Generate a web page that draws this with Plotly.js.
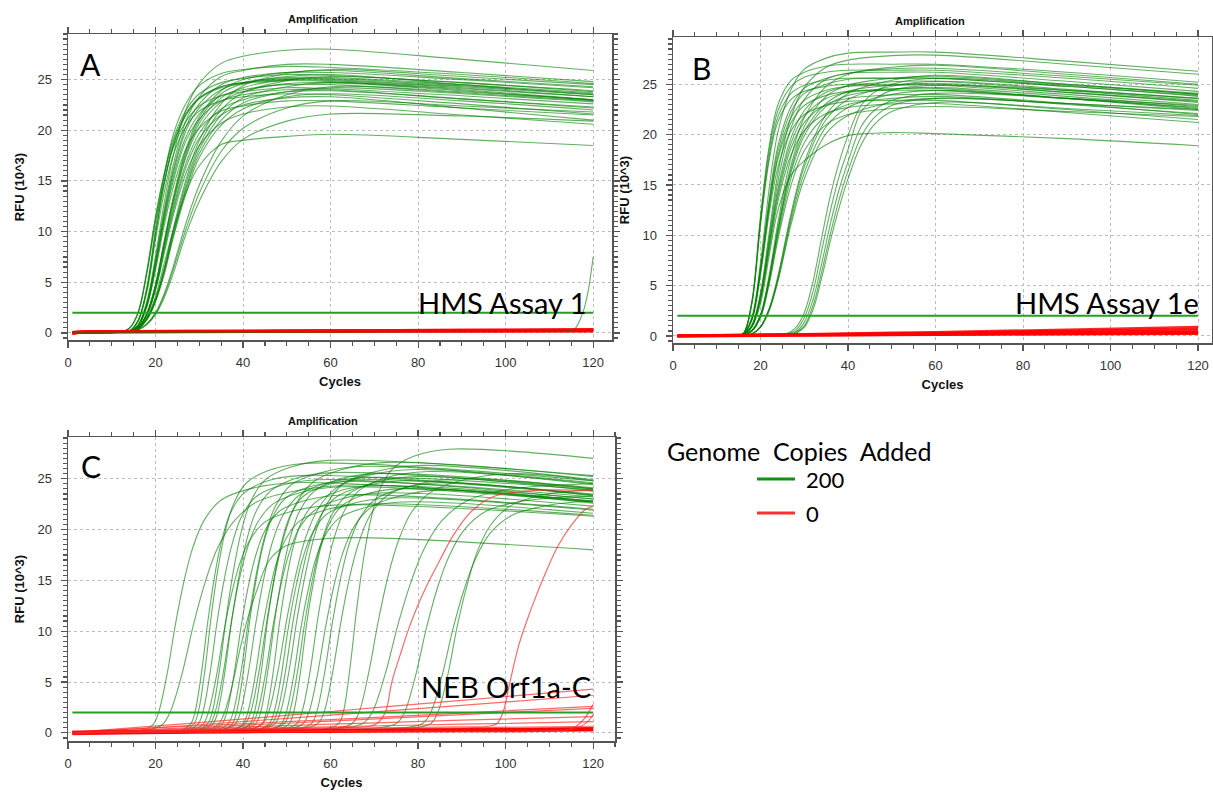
<!DOCTYPE html>
<html><head><meta charset="utf-8">
<script src="https://cdn.plot.ly/plotly-3.0.1.min.js"></script>
<style>html,body{margin:0;padding:0;background:#fff}#chart{width:1213px;height:793px}</style>
</head><body><div id="chart"></div>
<script>
// ---------------- DATA ----------------
const panelTitles = ["Amplification", "Amplification", "Amplification"];
const panelLetters = ["A", "B", "C"];
const assayNames = ["HMS Assay 1", "HMS Assay 1e", "NEB Orf1a-C"];
const xTickLabels = [0, 20, 40, 60, 80, 100, 120];
const yTickLabels = [0, 5, 10, 15, 20, 25];
const legendTitle = "Genome\u00A0\u00A0Copies\u00A0\u00A0Added";
const legendLabels = ["200", "0"];
const thresholdRFU = [2.0, 2.0, 2.0];
const thresholdCycles = [1, 120];

// Panel A: 200-copy curves, RFU (10^3) at shared cycles
const cyclesA = [1, 12, 14, 16, 18, 20, 22, 24, 27, 30, 35, 40, 50, 60, 90, 120];
const greenA = [
 [0.0,0.1,0.46,2.0,6.1,11.5,15.8,19.1,22.0,23.6,24.7,25.1,25.5,25.4,24.7,23.8],
 [0.0,0.1,0.44,1.9,5.8,10.9,15.0,18.2,20.9,22.4,23.4,23.8,24.2,24.1,23.4,22.6],
 [0.0,0.1,0.18,1.2,4.5,10.3,15.5,19.5,22.7,24.4,25.6,26.0,26.3,26.2,25.5,24.6],
 [0.0,0.1,0.18,1.2,4.3,9.8,14.8,18.5,21.6,23.2,24.3,24.7,25.0,24.9,24.2,23.3],
 [0.0,0.1,0.17,1.1,4.0,9.2,13.9,17.5,20.4,21.9,22.9,23.3,23.6,23.5,22.6,21.6],
 [0.0,0.1,0.17,0.8,3.1,7.6,12.9,17.4,22.1,24.6,26.6,27.3,27.9,28.0,27.0,25.9],
 [0.0,0.1,0.15,0.7,2.8,7.0,11.9,16.0,20.4,22.6,24.5,25.2,25.7,25.7,25.0,24.2],
 [0.0,0.1,0.15,0.7,2.7,6.6,11.3,15.3,19.4,21.6,23.4,24.0,24.5,24.5,23.7,22.9],
 [0.0,0.1,0.14,0.6,2.5,6.2,10.6,14.3,18.2,20.2,21.9,22.4,22.9,22.9,22.2,21.5],
 [0.0,0.1,0.16,0.7,2.9,7.2,12.2,16.5,21.0,23.3,25.3,25.9,26.5,26.5,25.7,24.8],
 [0.0,0.1,0.1,0.5,1.9,4.7,8.8,12.9,17.6,20.7,23.2,24.2,25.0,25.1,24.4,23.6],
 [0.0,0.1,0.1,0.5,1.8,4.4,8.4,12.2,16.8,19.7,22.1,23.0,23.8,23.9,23.1,22.3],
 [0.0,0.1,0.1,0.5,1.9,4.8,9.1,13.3,18.2,21.3,23.9,25.0,25.7,25.9,25.1,24.3],
 [0.0,0.1,0.1,0.45,1.7,4.2,7.9,11.5,15.8,18.5,20.7,21.6,22.3,22.4,21.5,20.6],
 [0.0,0.1,0.1,0.5,1.8,4.6,8.7,12.6,17.4,20.3,22.8,23.8,24.6,24.7,23.9,23.0],
 [0.0,0.1,0.1,0.4,1.4,3.3,6.3,10.0,14.8,18.5,22.0,23.7,24.9,25.3,24.7,23.9],
 [0.0,0.1,0.1,0.4,1.3,3.1,5.8,9.3,13.8,17.3,20.5,22.1,23.3,23.6,22.9,22.0],
 [0.0,0.1,0.1,0.3,0.8,1.8,3.5,5.8,9.8,13.0,16.9,19.1,20.9,21.6,21.4,20.9],
 [0.0,0.1,0.1,0.4,1.3,3.1,6.0,9.5,14.2,17.7,21.0,22.7,23.8,24.2,23.6,22.8],
 [0.0,0.1,0.1,0.45,1.4,3.4,6.4,10.2,15.2,19.0,22.6,24.4,25.6,26.0,25.3,24.5],
 [0.0,0.1,0.1,0.3,0.9,1.9,3.7,6.2,10.3,13.8,17.9,20.2,22.2,22.9,22.4,21.8],
 [0.0,0.1,0.1,0.4,1.45,3.6,6.9,10.0,13.9,16.5,18.6,19.0,19.4,19.6,19.1,18.5],
 [0.0,0.1,0.1,0.35,0.9,2.0,3.9,6.5,10.9,14.6,18.9,21.4,23.5,24.3,23.8,23.0],
 [0.0,0.1,0.17,1.2,4.2,9.7,14.7,18.4,21.5,23.1,24.2,24.6,24.9,24.8,24.0,23.0],
 [0.0,0.1,0.14,0.7,2.65,6.5,11.1,14.9,19.0,21.1,22.9,23.5,24.0,24.0,23.1,22.2],
 [0.0,0.1,0.1,0.5,1.9,4.7,9.0,13.1,17.9,21.0,23.6,24.6,25.3,25.5,24.5,23.5],
 [0.0,0.1,0.45,2.0,6.0,11.3,15.6,18.8,21.7,23.2,24.3,24.7,25.1,25.0,24.3,23.5],
 [0.0,0.1,0.1,0.4,1.3,3.2,6.1,9.7,14.4,18.1,21.5,23.2,24.3,24.7,24.1,23.3],
 [0.0,0.1,0.1,0.5,1.7,4.3,8.2,11.9,16.4,19.2,21.5,22.5,23.2,23.3,22.2,21.0],
 [0.0,0.1,0.15,0.7,2.8,6.9,11.6,15.7,20.0,22.2,24.0,24.7,25.2,25.2,24.5,23.7]
];
const lateGreenA_cycles = [1, 60, 112, 114, 115, 116, 117, 118, 119, 120];
const lateGreenA_rfu    = [0.0, 0.1, 0.15, 0.18, 0.25, 0.5, 1.3, 2.5, 4.5, 7.5];
// Panel A: 0-copy curves
const redA_cycles = [1, 3, 10, 30, 60, 90, 120];
const redA = [
 [-0.1, 0.05, 0.1, 0.12, 0.15, 0.18, 0.2],
 [0.0, 0.1, 0.12, 0.15, 0.2, 0.24, 0.28],
 [0.05, 0.12, 0.14, 0.18, 0.22, 0.27, 0.32],
 [-0.05, 0.06, 0.08, 0.1, 0.12, 0.14, 0.16],
 [0.1, 0.15, 0.17, 0.2, 0.25, 0.3, 0.36],
 [0.0, 0.08, 0.1, 0.13, 0.17, 0.2, 0.24]
];

// Panel B: 200-copy curves
const cyclesB = [1, 12, 14, 16, 18, 20, 22, 24, 27, 30, 35, 40, 50, 60, 90, 120];
const greenB = [
 [0,0.1,0.11,0.21,3.3,11.6,18.5,22.4,24.8,25.7,26.2,26.4,26.4,26.4,25.6,24.6],
 [0,0.1,0.1,0.2,3.1,11.0,17.5,21.3,23.5,24.3,24.8,25.0,25.0,25.0,24.2,23.2],
 [0,0.1,0.11,0.22,3.4,11.9,18.9,23.0,25.4,26.2,26.8,27.0,27.0,27.0,26.2,25.2],
 [0,0.1,0.1,0.2,1.8,7.3,14.7,20.3,24.5,26.5,27.6,28.1,28.2,28.2,27.3,26.3],
 [0,0.1,0.1,0.18,1.7,6.7,13.3,18.4,22.3,24.1,25.0,25.5,25.6,25.6,24.8,23.8],
 [0,0.1,0.1,0.17,1.6,6.3,12.7,17.6,21.2,22.9,23.9,24.3,24.4,24.4,23.6,22.6],
 [0,0.1,0.1,0.18,1.7,6.8,13.6,18.9,22.8,24.6,25.6,26.1,26.2,26.2,25.3,24.3],
 [0,0.1,0.1,0.17,1.06,4.3,10.3,16.2,21.8,24.7,26.7,27.4,27.85,27.9,27.0,26.0],
 [0,0.1,0.1,0.15,0.96,3.9,9.4,14.7,19.7,22.4,24.2,24.8,25.25,25.3,24.4,23.4],
 [0,0.1,0.1,0.14,0.91,3.7,8.9,13.9,18.7,21.2,23.0,23.6,23.95,24.0,23.1,22.0],
 [0,0.1,0.1,0.16,1.01,4.1,9.8,15.4,20.7,23.5,25.5,26.1,26.55,26.6,25.8,24.9],
 [0,0.1,0.1,0.14,0.88,3.6,8.5,13.4,18.0,20.4,22.1,22.7,23.05,23.1,22.2,21.2],
 [0,0.1,0.1,0.12,0.52,2.06,5.8,10.8,17.0,20.8,23.8,24.9,25.6,25.8,25.0,24.0],
 [0,0.1,0.1,0.11,0.49,1.98,5.6,10.4,16.3,19.9,22.8,23.9,24.5,24.7,23.8,22.8],
 [0,0.1,0.1,0.12,0.54,2.15,6.1,11.3,17.8,21.7,24.8,26.0,26.7,26.9,26.0,25.0],
 [0,0.1,0.1,0.1,0.46,1.82,5.15,9.6,15.0,18.4,21.0,22.0,22.6,22.8,22.3,21.8],
 [0,0.1,0.1,0.11,0.5,2.0,5.7,10.5,16.6,20.3,23.1,24.3,24.9,25.1,24.2,23.3],
 [0,0.1,0.1,0.1,0.2,0.88,2.6,5.6,11.5,16.2,20.8,22.7,24.0,24.4,23.6,22.7],
 [0,0.1,0.1,0.1,0.21,0.94,2.76,6.0,12.2,17.2,22.0,24.1,25.4,25.9,25.0,24.1],
 [0,0.1,0.1,0.1,0.19,0.85,2.5,5.45,11.1,15.6,20.1,21.9,23.2,23.6,23.1,22.5],
 [0,0.1,0.1,0.1,0.2,0.91,2.7,5.8,11.9,16.8,21.5,23.5,24.8,25.3,24.5,23.6],
 [0,0.1,0.1,0.17,1.62,6.5,12.9,17.9,21.7,23.4,24.4,24.8,24.9,24.9,24.0,23.0],
 [0,0.1,0.1,0.2,3.2,11.3,17.9,21.8,24.1,24.9,25.4,25.6,25.6,25.6,24.8,23.9],
 [0,0.1,0.1,0.15,0.93,3.8,9.1,14.3,19.2,21.8,23.6,24.2,24.55,24.6,23.6,22.5],
 [0,0.1,0.1,0.11,0.48,1.9,5.4,10.0,15.7,19.2,21.9,23.0,23.6,23.8,23.0,22.1],
 [0,0.1,0.1,0.16,1.52,6.1,12.2,16.8,20.4,22.0,22.9,23.3,23.4,23.4,22.5,21.5],
 [0,0.1,0.1,0.2,0.9,3.2,8.0,12.5,16.0,17.4,19.0,19.9,20.2,20.1,19.6,18.9]
];
const lateCyclesB = [1, 20, 26, 28, 30, 32, 34, 36, 38, 40, 43, 46, 50, 60, 90, 120];
const lateGreenB = [
 [0,0.1,0.2,0.56,1.8,4.4,8.5,12.5,15.9,18.5,22.3,23.5,24.4,24.9,24.4,23.6],
 [0,0.1,0.15,0.4,1.35,3.6,7.2,11.2,14.6,17.3,20.8,22.4,23.4,24.1,23.6,22.9],
 [0,0.1,0.12,0.3,1.0,3.0,6.4,10.2,13.6,16.4,19.8,21.7,22.9,23.6,23.1,22.4],
 [0,0.1,0.25,0.8,2.3,5.4,9.8,14.0,17.3,19.9,22.9,24.2,25.0,25.6,24.9,24.0],
 [0,0.1,0.1,0.25,0.85,2.6,5.8,9.5,12.8,15.6,19.0,21.0,22.3,23.2,22.6,21.9]
];
const redB_cycles = [1, 30, 60, 90, 120];
const redB = [
 [0.0, 0.08, 0.15, 0.22, 0.28],
 [-0.05, 0.05, 0.12, 0.18, 0.22],
 [0.05, 0.12, 0.2, 0.3, 0.38],
 [0.0, 0.15, 0.3, 0.5, 0.7],
 [0.02, 0.18, 0.38, 0.62, 0.9],
 [0.0, 0.1, 0.18, 0.26, 0.33],
 [0.05, 0.14, 0.25, 0.4, 0.55]
];

// Panel C: 200-copy curves, each with its own cycles
const greenC_cycles = [
 [1,16.8,19.4,20.7,22.65,24.6,26.55,28.5,31.1,35.0,41.5,51.9,120],
 [1,17.9,21.5,23.3,26.0,28.7,31.4,34.1,37.7,43.1,52.1,66.5,120],
 [1,26,28,29,30.5,32,33.5,35,37,40,45,53,120],
 [1,26.8,28.8,29.8,31.3,32.8,34.3,35.8,37.8,40.8,45.8,53.8,120],
 [1,27.5,29.7,30.8,32.45,34.1,35.75,37.4,39.6,42.9,48.4,57.2,120],
 [1,31.6,34.2,35.5,37.45,39.4,41.35,43.3,45.9,49.8,56.3,66.7,120],
 [1,28.4,30.8,32,33.8,35.6,37.4,39.2,41.6,45.2,51.2,60.8,120],
 [1,29.7,31.9,33,34.65,36.3,37.95,39.6,41.8,45.1,50.6,59.4,120],
 [1,30.0,32.4,33.6,35.4,37.2,39.0,40.8,43.2,46.8,52.8,62.4,120],
 [1,30.9,33.1,34.2,35.85,37.5,39.15,40.8,43.0,46.3,51.8,60.6,120],
 [1,32.9,35.1,36.2,37.85,39.5,41.15,42.8,45.0,48.3,53.8,62.6,120],
 [1,34.2,36.6,37.8,39.6,41.4,43.2,45.0,47.4,51.0,57.0,66.6,120],
 [1,35.5,37.5,38.5,40,41.5,43,44.5,46.5,49.5,54.5,62.5,120],
 [1,35.8,38.2,39.4,41.2,43.0,44.8,46.6,49.0,52.6,58.6,68.2,120],
 [1,37.7,39.9,41.0,42.65,44.3,45.95,47.6,49.8,53.1,58.6,67.4,120],
 [1,37.9,40.5,41.8,43.75,45.7,47.65,49.6,52.2,56.1,62.6,73.0,120],
 [1,39.6,41.6,42.6,44.1,45.6,47.1,48.6,50.6,53.6,58.6,66.6,120],
 [1,39.6,42.0,43.2,45.0,46.8,48.6,50.4,52.8,56.4,62.4,72.0,120],
 [1,40.7,42.9,44.0,45.65,47.3,48.95,50.6,52.8,56.1,61.6,70.4,120],
 [1,42.3,44.3,45.3,46.8,48.3,49.8,51.3,53.3,56.3,61.3,69.3,120],
 [1,41.7,44.5,45.9,48.0,50.1,52.2,54.3,57.1,61.3,68.3,79.5,120],
 [1,43.7,45.9,47.0,48.65,50.3,51.95,53.6,55.8,59.1,64.6,73.4,120],
 [1,44.2,46.6,47.8,49.6,51.4,53.2,55.0,57.4,61.0,67.0,76.6,120],
 [1,44.7,47.3,48.6,50.55,52.5,54.45,56.4,59.0,62.9,69.4,79.8,120],
 [1,46.5,48.7,49.8,51.45,53.1,54.75,56.4,58.6,61.9,67.4,76.2,120],
 [1,47.0,49.4,50.6,52.4,54.2,56.0,57.8,60.2,63.8,69.8,79.4,120],
 [1,48.5,50.5,51.5,53.0,54.5,56.0,57.5,59.5,62.5,67.5,75.5,120],
 [1,49.9,52.3,53.5,55.3,57.1,58.9,60.7,63.1,66.7,72.7,82.3,120],
 [1,51.1,53.7,55.0,56.95,58.9,60.85,62.8,65.4,69.3,75.8,86.2,120],
 [1,53.2,55.6,56.8,58.6,60.4,62.2,64.0,66.4,70.0,76.0,85.6,120],
 [1,54.6,57.2,58.5,60.45,62.4,64.35,66.3,68.9,72.8,79.3,89.7,120],
 [1,60,62,63,64.5,66,67.5,69,71,74,79,87,120],
 [1,62.0,65.0,66.5,68.75,71.0,73.25,75.5,78.5,83.0,90.5,102.5,120],
 [1,63.5,67.5,69.5,72.5,75.5,78.5,81.5,85.5,91.5,101.5,120],
 [1,71.7,75.1,76.8,79.35,81.9,84.45,87.0,90.4,95.5,104.0,120],
 [1,77.7,81.1,82.8,85.35,87.9,90.45,93.0,96.4,101.5,110.0,120],
 [1,80.0,83.0,84.5,86.75,89.0,91.25,93.5,96.5,101.0,108.5,120]
];
const greenC_rfu = [
 [0.1,0.25,0.8,2.0,5.8,10.8,15.0,18.2,20.9,22.9,24.0,24.6,22.8],
 [0.1,0.25,0.8,2.0,5.7,10.7,14.9,18.1,20.7,22.7,23.8,24.4,22.6],
 [0.1,0.3,0.85,2.0,5.9,11.1,15.4,18.7,21.5,23.5,24.7,25.3,23.5],
 [0.1,0.3,0.9,2.1,6.2,11.7,16.2,19.6,22.5,24.6,25.8,26.5,24.8],
 [0.1,0.3,0.85,2.0,5.85,11.0,15.2,18.4,21.2,23.2,24.3,24.9,23.0],
 [0.1,0.3,0.75,1.7,4.5,8.4,11.7,14.2,16.9,18.4,19.0,19.2,18.0],
 [0.1,0.3,0.8,1.9,5.3,9.9,13.7,16.6,19.0,20.8,21.8,22.4,21.3],
 [0.1,0.3,0.9,2.1,6.3,11.8,16.3,19.8,22.8,24.9,26.1,26.8,25.3],
 [0.1,0.3,0.8,2.0,5.7,10.6,14.8,17.9,20.6,22.5,23.6,24.2,22.7],
 [0.1,0.3,0.85,2.0,6.0,11.3,15.6,18.9,21.8,23.8,25.0,25.6,24.0],
 [0.1,0.3,0.8,1.9,5.5,10.3,14.3,17.3,19.9,21.8,22.8,23.4,22.0],
 [0.1,0.35,0.9,2.1,6.2,11.5,16.0,19.4,22.3,24.4,25.5,26.2,24.6],
 [0.1,0.35,0.85,2.0,5.8,10.9,15.1,18.3,21.0,23.0,24.1,24.7,23.2],
 [0.1,0.35,0.85,2.0,5.9,11.0,15.3,18.6,21.3,23.3,24.5,25.1,23.9],
 [0.1,0.35,0.8,1.9,5.3,9.9,13.7,16.7,19.1,20.9,21.9,22.5,21.4],
 [0.1,0.35,0.9,2.1,6.3,11.7,16.2,19.7,22.6,24.7,25.9,26.6,25.2],
 [0.1,0.4,0.9,2.0,5.85,11.0,15.2,18.4,21.2,23.2,24.3,24.9,23.4],
 [0.1,0.4,0.85,1.9,5.5,10.4,14.4,17.5,20.1,21.9,23.0,23.6,22.3],
 [0.1,0.4,0.9,2.0,6.0,11.2,15.6,18.9,21.7,23.7,24.9,25.5,24.1],
 [0.1,0.4,0.85,1.95,5.7,10.7,14.8,18.0,20.7,22.6,23.7,24.3,23.0],
 [0.1,0.4,0.9,2.1,6.1,11.4,15.8,19.2,22.0,24.1,25.3,25.9,24.4],
 [0.1,0.4,0.85,1.9,5.4,10.2,14.1,17.1,19.6,21.5,22.5,23.1,21.9],
 [0.1,0.4,0.9,2.0,5.8,10.9,15.1,18.4,21.1,23.1,24.2,24.8,23.4],
 [0.1,0.4,0.9,2.1,6.2,11.6,16.0,19.5,22.4,24.5,25.6,26.3,24.9],
 [0.1,0.4,0.85,1.9,5.3,10.0,13.8,16.8,19.3,21.1,22.1,22.7,21.6],
 [0.1,0.45,0.9,2.0,5.9,11.1,15.4,18.6,21.4,23.4,24.6,25.2,23.8],
 [0.1,0.45,0.85,1.9,5.6,10.6,14.6,17.8,20.4,22.3,23.4,24.0,22.8],
 [0.1,0.45,0.9,2.1,6.0,11.3,15.7,19.0,21.8,23.9,25.1,25.7,24.5],
 [0.1,0.45,0.9,1.95,5.6,10.5,14.6,17.7,20.3,22.2,23.3,23.9,22.7],
 [0.1,0.45,0.9,2.0,5.8,10.8,15.0,18.2,20.9,22.9,24.0,24.6,23.3],
 [0.1,0.5,0.95,2.0,5.9,11.0,15.3,18.5,21.3,23.3,24.4,25.0,24.0],
 [0.1,0.5,1.0,2.2,6.6,12.3,17.0,20.6,23.7,25.9,27.2,27.9,27.0],
 [0.1,0.5,0.95,2.0,6.0,11.2,15.6,18.9,21.7,23.7,24.9,25.5,24.8],
 [0.1,0.5,0.95,2.0,5.8,10.8,15.0,18.2,20.9,22.9,24.0,24.5],
 [0.1,0.55,0.95,1.9,5.5,10.3,14.3,17.3,19.9,21.8,22.8,23.3],
 [0.1,0.55,0.95,1.9,5.4,10.1,14.0,17.0,19.6,21.4,22.4,22.8],
 [0.1,0.55,0.95,2.0,5.6,10.6,14.6,17.8,20.4,22.3,23.4,23.9]
];
// Panel C: 0-copy curves
const redC_cycles = [1, 30, 60, 90, 120];
const redC = [
 [0.05, 1.0, 2.1, 3.2, 4.3],
 [0.0, 0.8, 1.75, 2.7, 3.7],
 [0.1, 0.7, 1.3, 1.95, 2.6],
 [0.0, 0.55, 1.15, 1.8, 2.4],
 [0.05, 0.45, 0.85, 1.25, 1.6],
 [0.0, 0.35, 0.6, 0.85, 1.1],
 [0.0, 0.2, 0.35, 0.5, 0.65],
 [-0.1, 0.05, 0.12, 0.2, 0.3],
 [0.0, 0.1, 0.18, 0.26, 0.35],
 [0.05, 0.12, 0.2, 0.3, 0.42],
 [-0.05, 0.08, 0.14, 0.2, 0.25],
 [0.1, 0.15, 0.25, 0.35, 0.45]
];
const redAmpC_cycles = [
 [1, 30, 60, 68, 70.5, 72.5, 74, 76, 78, 80, 82, 85, 88, 92, 97, 103, 110, 120],
 [1, 30, 60, 90, 96, 98, 99.4, 101, 103, 105, 107, 109, 112, 115, 118, 120],
 [1, 60, 114, 116, 118, 120],
 [1, 60, 115, 117, 119, 120]
];
const redAmpC_rfu = [
 [0.05, 0.3, 0.5, 0.6, 0.9, 2.0, 5.0, 7.8, 10.4, 12.6, 14.5, 17.0, 19.4, 21.7, 23.2, 23.7, 23.9, 23.8],
 [0.05, 0.25, 0.45, 0.6, 0.65, 0.9, 2.0, 5.0, 8.6, 11.2, 13.5, 15.6, 18.4, 20.4, 21.9, 22.3],
 [0.0, 0.15, 0.3, 0.6, 1.4, 2.8],
 [0.0, 0.2, 0.35, 0.6, 1.2, 1.8]
];

// ---------------- STYLE / LAYOUT ----------------
const W = 1213, H = 793;
const fx = p => p / W, fy = p => 1 - p / H;
const GREEN = 'rgba(0,128,0,0.62)';
const RED = 'rgba(255,0,0,0.85)';
const RED_THIN = 'rgba(255,40,40,0.7)';
const THR = '#23a023';
const CAL = 'Lato, "Noto Sans", sans-serif';
const ARIAL = '"Liberation Sans", Arial, sans-serif';

const traces = [];
function line(xs, ys, ax, color, width, spline) {
  traces.push({x: xs, y: ys, xaxis: 'x' + ax, yaxis: 'y' + ax, type: 'scatter', mode: 'lines',
    line: {color: color, width: width, shape: spline ? 'spline' : 'linear', smoothing: 1},
    hoverinfo: 'skip', showlegend: false});
}
// Panel A
greenA.forEach(r => line(cyclesA, r, '', GREEN, 1.1, true));
redA.forEach(r => line(redA_cycles, r, '', RED, 2.5, true));
line(lateGreenA_cycles, lateGreenA_rfu, '', GREEN, 1.1, true);
line(thresholdCycles, [thresholdRFU[0], thresholdRFU[0]], '', THR, 2, false);
// Panel B
greenB.forEach(r => line(cyclesB, r, '2', GREEN, 1.1, true));
lateGreenB.forEach(r => line(lateCyclesB, r, '2', GREEN, 1.1, true));
redB.forEach(r => line(redB_cycles, r, '2', RED, 2.5, true));
line(thresholdCycles, [thresholdRFU[1], thresholdRFU[1]], '2', THR, 2, false);
// Panel C
greenC_rfu.forEach((r, i) => line(greenC_cycles[i], r, '3', GREEN, 1.1, true));
redC.forEach((r, i) => line(redC_cycles, r, '3', i < 7 ? RED_THIN : RED, i < 7 ? 1.2 : 2.5, true));
redAmpC_rfu.forEach((r, i) => line(redAmpC_cycles[i], r, '3', RED_THIN, 1.2, true));
line(thresholdCycles, [thresholdRFU[2], thresholdRFU[2]], '3', THR, 2, false);

const tickFont = {family: ARIAL, size: 13, color: '#333'};
const titleFont = {family: ARIAL, size: 13, color: '#111', weight: 'bold'};
const GRID = '#bdbdbd';
function xAxis(d0, d1, range, anchor) {
  return {domain: [fx(d0), fx(d1)], range: range, anchor: anchor, showline: true, linecolor: '#555', linewidth: 1.5,
    mirror: 'ticks', ticks: 'outside', ticklen: 6, tickcolor: '#555', tickwidth: 1.2,
    tickmode: 'array', tickvals: xTickLabels, ticktext: xTickLabels.map(String),
    showgrid: true, gridcolor: GRID, griddash: 'dot', gridwidth: 1, zeroline: false,
    tickfont: tickFont, ticklabelstandoff: 4,
    minor: {dtick: 5, tick0: 0, ticklen: 4, tickcolor: '#555', ticks: 'outside', showgrid: false},
    title: {text: 'Cycles', font: titleFont, standoff: 8}, automargin: false, fixedrange: true};
}
function yAxis(d0, d1, range, anchor) {
  return {domain: [fy(d1), fy(d0)], range: range, anchor: anchor, showline: true, linecolor: '#555', linewidth: 1.5,
    mirror: 'ticks', ticks: 'outside', ticklen: 6, tickcolor: '#555', tickwidth: 1.2,
    tickmode: 'array', tickvals: yTickLabels, ticktext: yTickLabels.map(String),
    showgrid: true, gridcolor: GRID, griddash: 'dot', gridwidth: 1, zeroline: false,
    tickfont: tickFont, ticklabelstandoff: 6,
    minor: {dtick: 0.5, tick0: 0, ticklen: 4, tickcolor: '#555', ticks: 'outside', showgrid: false},
    title: {text: 'RFU (10^3)', font: titleFont, standoff: 10}, automargin: false, fixedrange: true};
}

const ann = [];
function text(t, x, y, size, font, xa, ya) {
  ann.push({text: t, xref: 'paper', yref: 'paper', x: fx(x), y: fy(y), xanchor: xa, yanchor: ya,
    showarrow: false, font: {family: font, size: size, color: '#000'}});
}
[[323, 19], [930, 21], [323, 421]].forEach((p, i) => ann.push({text: panelTitles[i], xref: 'paper', yref: 'paper',
  x: fx(p[0]), y: fy(p[1]), xanchor: 'center', yanchor: 'middle', showarrow: false,
  font: {family: ARIAL, size: 11, color: '#111', weight: 'bold'}}));
[[90, 64], [701, 68], [91, 466]].forEach((p, i) => text(panelLetters[i], p[0], p[1], 30, CAL, 'center', 'middle'));
[[589, 302], [1201, 302], [593, 686]].forEach((p, i) => text(assayNames[i], p[0], p[1], 29, CAL, 'right', 'middle'));
text(legendTitle, 665, 451, 25, CAL, 'left', 'middle');
text(legendLabels[0], 804, 479, 22, CAL, 'left', 'middle');
text(legendLabels[1], 804, 513, 22, CAL, 'left', 'middle');

const shapes = [
  {type: 'line', xref: 'paper', yref: 'paper', x0: fx(757), x1: fx(795), y0: fy(479), y1: fy(479), line: {color: '#1a8c1a', width: 3}},
  {type: 'line', xref: 'paper', yref: 'paper', x0: fx(757), x1: fx(795), y0: fy(513), y1: fy(513), line: {color: '#ff3030', width: 3}}
];

const layout = {
  width: W, height: H, margin: {l: 0, r: 0, t: 0, b: 0}, paper_bgcolor: '#fff', plot_bgcolor: '#fff',
  showlegend: false,
  xaxis: xAxis(68, 612, [0, 124.3], 'y'),
  yaxis: yAxis(34, 340, [-0.7, 29.5], 'x'),
  xaxis2: xAxis(673, 1212, [0, 123.2], 'y2'),
  yaxis2: yAxis(37, 343, [-0.7, 29.7], 'x2'),
  xaxis3: xAxis(68, 615, [0, 125], 'y3'),
  yaxis3: yAxis(437, 741, [-0.8, 29.1], 'x3'),
  annotations: ann, shapes: shapes
};
Plotly.newPlot('chart', traces, layout, {staticPlot: true});
</script></body></html>
